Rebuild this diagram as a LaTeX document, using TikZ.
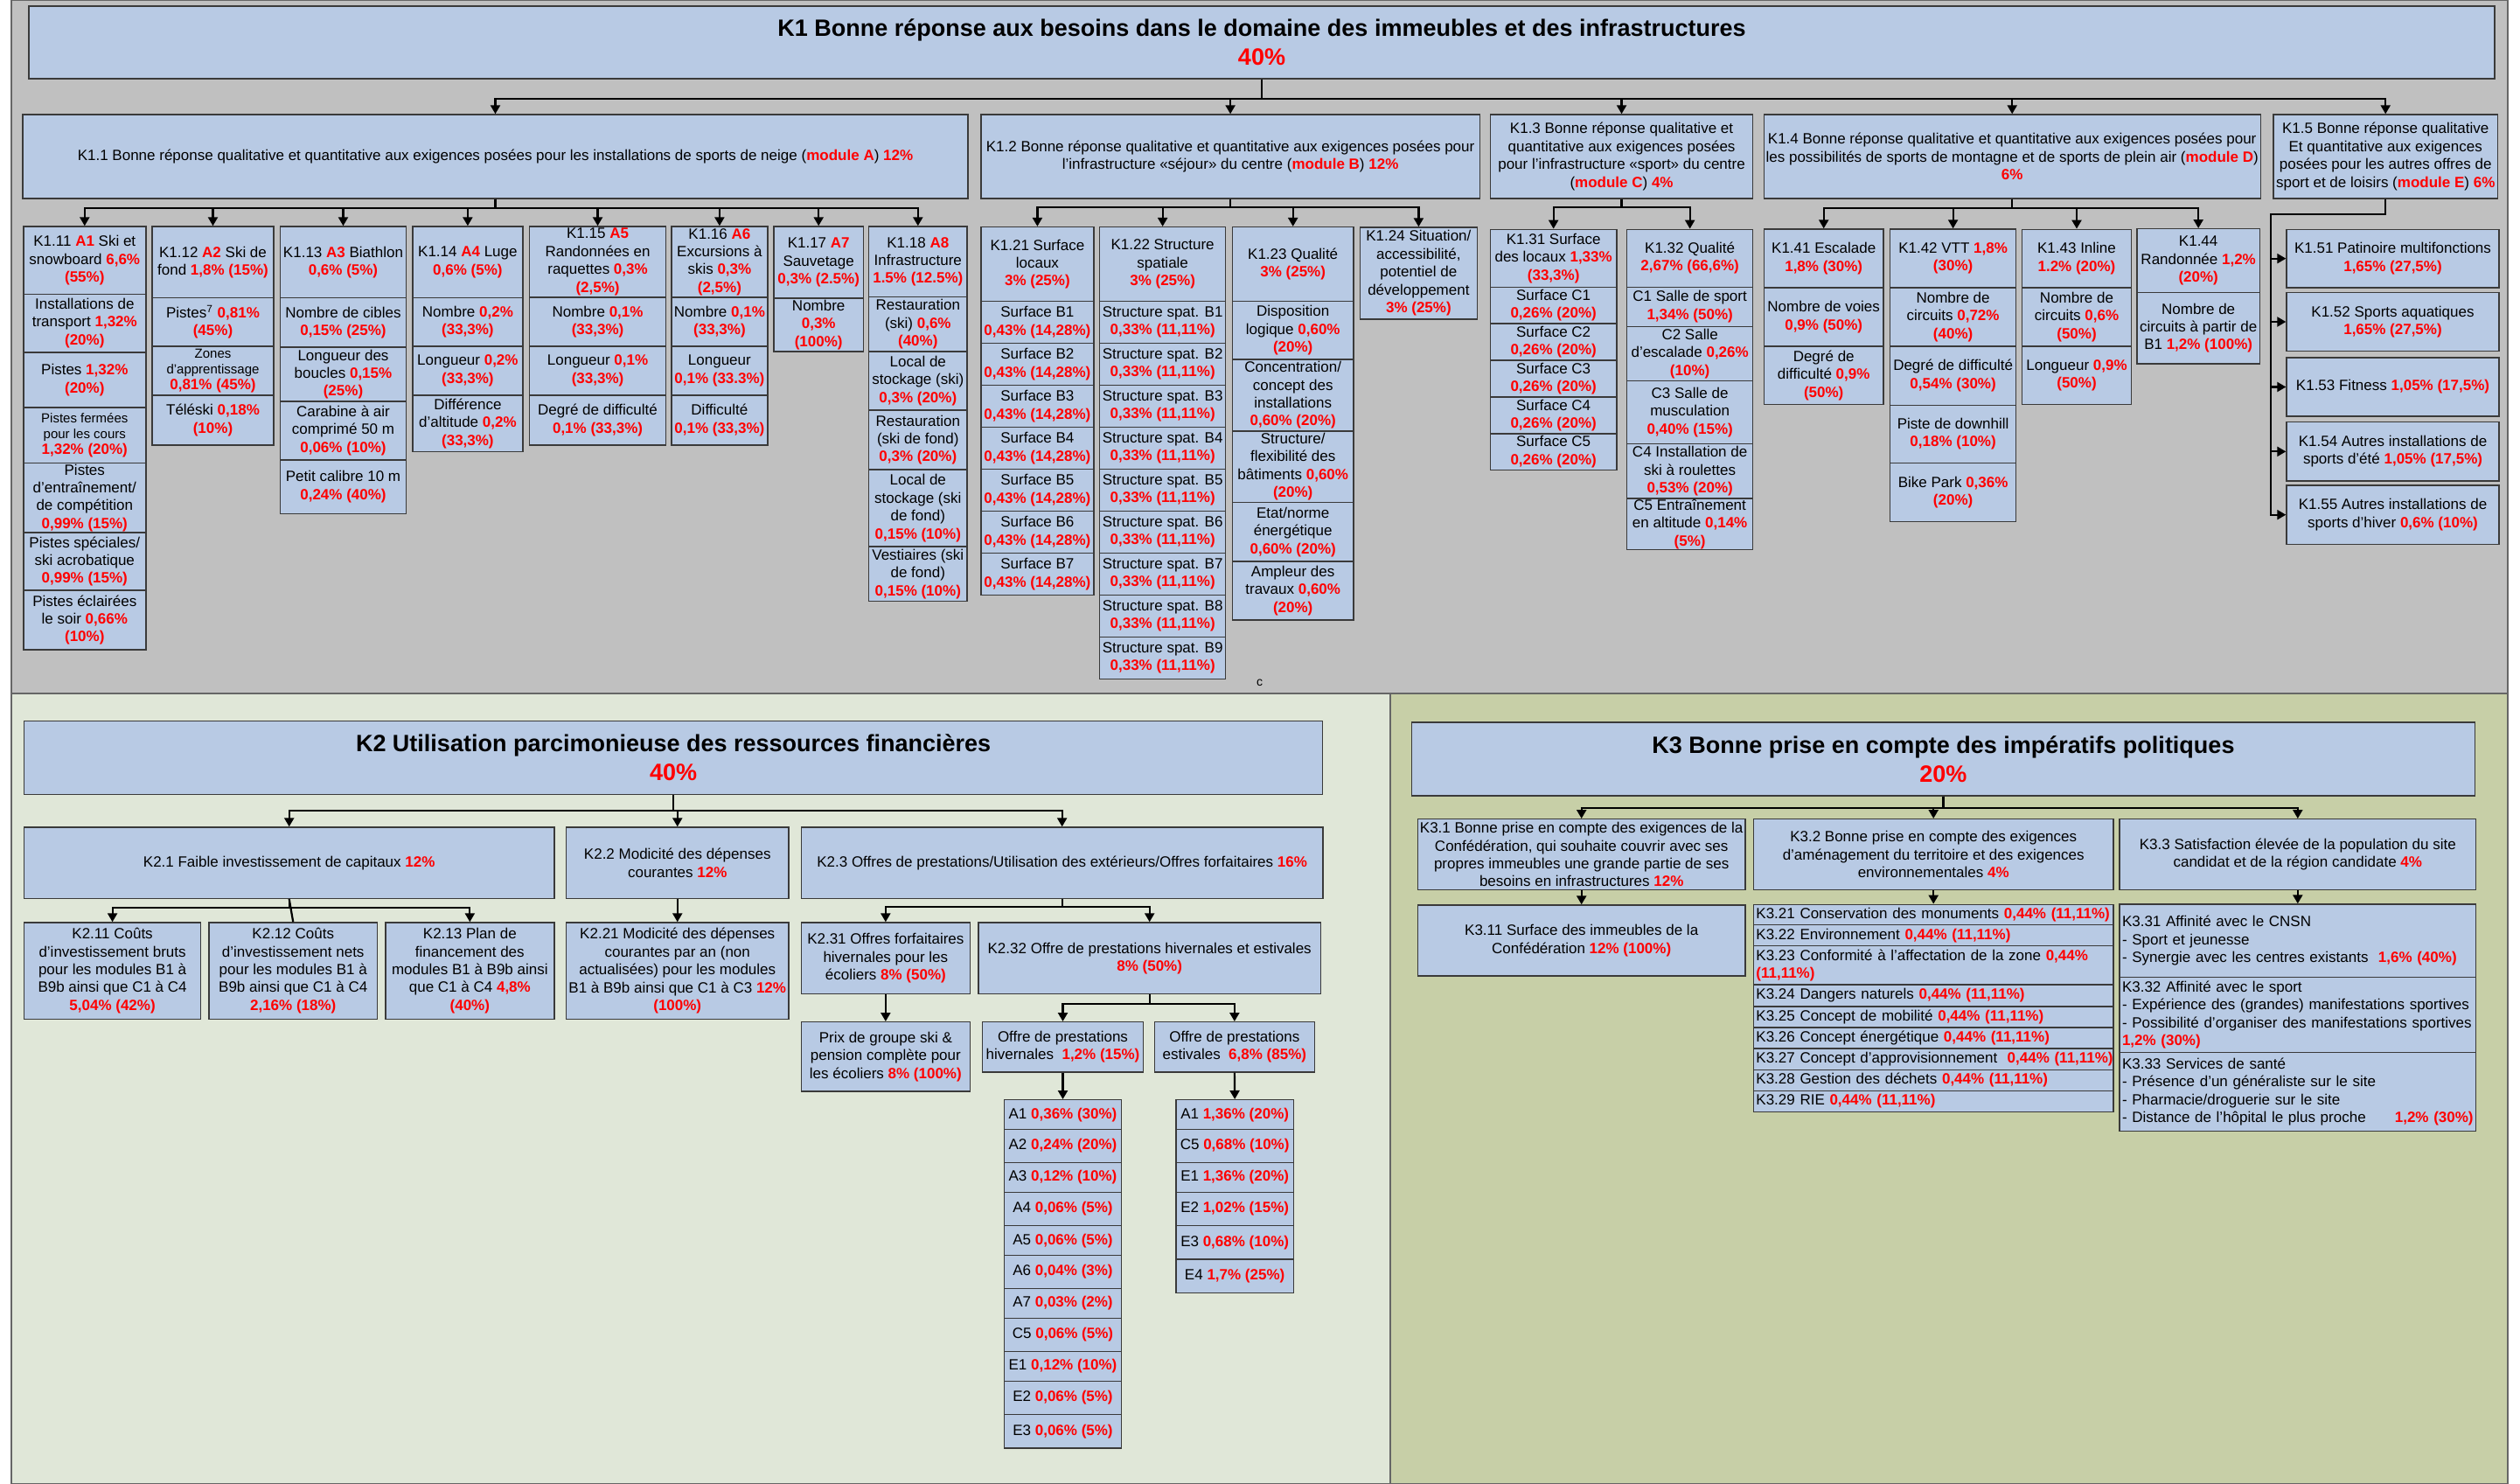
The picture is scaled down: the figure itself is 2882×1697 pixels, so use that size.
\documentclass[tikz,border=0pt]{standalone}
\usepackage{fontspec}
\setmainfont{Liberation Sans}
\usetikzlibrary{arrows.meta}
\definecolor{boxfill}{HTML}{B8CAE4}
\definecolor{bgA}{HTML}{C0C0C0}
\definecolor{bgB}{HTML}{E0E7D8}
\definecolor{bgC}{HTML}{C7CFA7}
\definecolor{edge}{HTML}{3A3A3A}
\definecolor{pct}{HTML}{FF0000}
\newcommand\rd[1]{{\color{pct}\bfseries #1}}
\newcommand\cellfont{\fontsize{8.5}{10.2}\selectfont}
\newcommand\mycell[7][]{%
  \pgfmathsetmacro\mcw{(#5-#3)*0.5}%
  \pgfmathsetmacro\mch{(#6-#4)*0.5}%
  \pgfmathsetmacro\mtw{(#5-#3)*0.5-3}%
  \node[cellbox,minimum width=\mcw pt,minimum height=\mch pt,#1] (#2) at ({(#3+#5)/2},{(#4+#6)/2}) {#7};}
\tikzset{
  cellbox/.style={draw=edge, line width=0.7pt, fill=boxfill, align=center, inner xsep=1pt, inner ysep=0pt, font=\cellfont},
  lft/.style={align=left, text width=\mtw pt},
  smallfont/.style={font=\fontsize{7.5}{9}\selectfont},
  ttl/.style={font=\fontsize{13.5}{16.5}\selectfont\bfseries},
  conn/.style={draw=black, line width=1.1pt},
  arr/.style={conn, -{Triangle[width=5.5pt,length=5pt]}},
  panel/.style={draw=black!60, line width=0.6pt}
}
\begin{document}
\begin{tikzpicture}[x=0.5pt,y=-0.5pt]
\useasboundingbox (0,0) rectangle (2882,1697);
\fill[white] (0,0) rectangle (2882,1697);
\fill[bgA,panel] (13,0) rectangle (2868,793);
\fill[bgB,panel] (13,793) rectangle (1590,1697);
\fill[bgC,panel] (1590,793) rectangle (2868,1697);

% ================= K1 =================
\mycell[ttl]{t1}{33}{7}{2853}{90}{K1 Bonne réponse aux besoins dans le domaine des immeubles et des infrastructures\\ \textcolor{pct}{40\%}}

\mycell{a1}{26}{131}{1107}{227}{K1.1 Bonne réponse qualitative et quantitative aux exigences posées pour les installations de sports de neige (\rd{module A}) \rd{12\%}}
\mycell{a2}{1121.8}{131}{1692.4}{227}{K1.2 Bonne réponse qualitative et quantitative aux exigences posées pour\\ l'infrastructure «séjour» du centre (\rd{module B}) \rd{12\%}}
\mycell{a3}{1704.5}{131}{2004.6}{227}{K1.3 Bonne réponse qualitative et\\ quantitative aux exigences posées\\ pour l'infrastructure «sport» du centre\\ (\rd{module C}) \rd{4\%}}
\mycell{a4}{2017.2}{131}{2585.2}{227}{K1.4 Bonne réponse qualitative et quantitative aux exigences posées pour\\ les possibilités de sports de montagne et de sports de plein air (\rd{module D})\\ \rd{6\%}}
\mycell{a5}{2599.8}{131}{2856.6}{227}{K1.5 Bonne réponse qualitative\\ Et quantitative aux exigences\\ posées pour les autres offres de\\ sport et de loisirs (\rd{module E}) \rd{6\%}}

% K1.11
\mycell{a11}{26.8}{259}{166.8}{336.4}{K1.11 \rd{A1} Ski et\\ snowboard \rd{6,6\%}\\ \rd{(55\%)}}
\mycell{a11a}{26.8}{336.4}{166.8}{402.8}{Installations de\\ transport \rd{1,32\%}\\ \rd{(20\%)}}
\mycell{a11b}{26.8}{402.8}{166.8}{466}{Pistes \rd{1,32\%}\\ \rd{(20\%)}}
\mycell[smallfont]{a11c}{26.8}{466}{166.8}{529.4}{Pistes fermées\\ pour les cours\\ {\cellfont\rd{1,32\% (20\%)}}}
\mycell{a11d}{26.8}{529.4}{166.8}{609}{Pistes\\ d'entraînement/\\ de compétition\\ \rd{0,99\% (15\%)}}
\mycell{a11e}{26.8}{609}{166.8}{675}{Pistes spéciales/\\ ski acrobatique\\ \rd{0,99\% (15\%)}}
\mycell{a11f}{26.8}{675}{166.8}{743}{Pistes éclairées\\ le soir \rd{0,66\%}\\ \rd{(10\%)}}
% K1.12
\mycell{a12}{174}{259}{313}{340.7}{K1.12 \rd{A2} Ski de\\ fond \rd{1,8\% (15\%)}}
\mycell{a12a}{174}{340.7}{313}{396}{Pistes\textsuperscript{7} \rd{0,81\%}\\ \rd{(45\%)}}
\mycell[smallfont]{a12b}{174}{396}{313}{452}{Zones\\ d'apprentissage\\ {\cellfont\rd{0,81\% (45\%)}}}
\mycell{a12c}{174}{452}{313}{508.8}{Téléski \rd{0,18\%}\\ \rd{(10\%)}}
% K1.13
\mycell{a13}{320.7}{259}{464.3}{340.7}{K1.13 \rd{A3} Biathlon\\ \rd{0,6\% (5\%)}}
\mycell{a13a}{320.7}{340.7}{464.3}{397}{Nombre de cibles\\ \rd{0,15\% (25\%)}}
\mycell{a13b}{320.7}{397}{464.3}{459}{Longueur des\\ boucles \rd{0,15\%}\\ \rd{(25\%)}}
\mycell{a13c}{320.7}{459}{464.3}{526}{Carabine à air\\ comprimé 50 m\\ \rd{0,06\% (10\%)}}
\mycell{a13d}{320.7}{526}{464.3}{587.5}{Petit calibre 10 m\\ \rd{0,24\% (40\%)}}
% K1.14
\mycell{a14}{471.8}{259}{598}{340.7}{K1.14 \rd{A4} Luge\\ \rd{0,6\% (5\%)}}
\mycell{a14a}{471.8}{340.7}{598}{396}{Nombre \rd{0,2\%}\\ \rd{(33,3\%)}}
\mycell{a14b}{471.8}{396}{598}{452}{Longueur \rd{0,2\%}\\ \rd{(33,3\%)}}
\mycell{a14c}{471.8}{452}{598}{516.7}{Différence\\ d'altitude \rd{0,2\%}\\ \rd{(33,3\%)}}
% K1.15
\mycell{a15}{605.5}{259}{761.6}{340}{K1.15 \rd{A5}\\ Randonnées en\\ raquettes \rd{0,3\%}\\ \rd{(2,5\%)}}
\mycell{a15a}{605.5}{340}{761.6}{396}{Nombre \rd{0,1\%}\\ \rd{(33,3\%)}}
\mycell{a15b}{605.5}{396}{761.6}{452}{Longueur \rd{0,1\%}\\ \rd{(33,3\%)}}
\mycell{a15c}{605.5}{452}{761.6}{509}{Degré de difficulté\\ \rd{0,1\% (33,3\%)}}
% K1.16
\mycell{a16}{768}{259}{877.8}{340}{K1.16 \rd{A6}\\ Excursions à\\ skis \rd{0,3\%}\\ \rd{(2,5\%)}}
\mycell{a16a}{768}{340}{877.8}{396}{Nombre \rd{0,1\%}\\ \rd{(33,3\%)}}
\mycell{a16b}{768}{396}{877.8}{452}{Longueur\\ \rd{0,1\% (33.3\%)}}
\mycell{a16c}{768}{452}{877.8}{509}{Difficulté\\ \rd{0,1\% (33,3\%)}}
% K1.17
\mycell{a17}{884.8}{259}{987.6}{341}{K1.17 \rd{A7}\\ Sauvetage\\ \rd{0,3\% (2.5\%)}}
\mycell{a17a}{884.8}{341}{987.6}{402}{Nombre\\ \rd{0,3\%}\\ \rd{(100\%)}}
% K1.18
\mycell{a18}{993.6}{259}{1106}{339.6}{K1.18 \rd{A8}\\ Infrastructure\\ \rd{1.5\% (12.5\%)}}
\mycell{a18a}{993.6}{339.6}{1106}{402}{Restauration\\ (ski) \rd{0,6\%}\\ \rd{(40\%)}}
\mycell{a18b}{993.6}{402}{1106}{469}{Local de\\ stockage (ski)\\ \rd{0,3\% (20\%)}}
\mycell{a18c}{993.6}{469}{1106}{537}{Restauration\\ (ski de fond)\\ \rd{0,3\% (20\%)}}
\mycell{a18d}{993.6}{537}{1106}{625}{Local de\\ stockage (ski\\ de fond)\\ \rd{0,15\% (10\%)}}
\mycell{a18e}{993.6}{625}{1106}{687.5}{Vestiaires (ski\\ de fond)\\ \rd{0,15\% (10\%)}}

% K1.21
\mycell{a21}{1121.8}{259.6}{1251}{344.6}{K1.21 Surface\\ locaux\\ \rd{3\% (25\%)}}
\foreach \i in {1,...,7}{%
  \pgfmathsetmacro\ya{344.6+48*(\i-1)}\pgfmathsetmacro\yb{\ya+48}%
  \mycell{a21r\i}{1121.8}{\ya}{1251}{\yb}{Surface B\i\\ \rd{0,43\% (14,28\%)}}}
% K1.22
\mycell{a22}{1257.7}{259.6}{1401.6}{344.6}{K1.22 Structure\\ spatiale\\ \rd{3\% (25\%)}}
\foreach \i in {1,...,9}{%
  \pgfmathsetmacro\ya{344.6+48*(\i-1)}\pgfmathsetmacro\yb{\ya+48}%
  \mycell{a22r\i}{1257.7}{\ya}{1401.6}{\yb}{Structure spat. B\i\\ \rd{0,33\% (11,11\%)}}}
% K1.23
\mycell{a23}{1409.6}{259.6}{1547.8}{344.6}{K1.23 Qualité\\ \rd{3\% (25\%)}}
\mycell{a23a}{1409.6}{344.6}{1547.8}{411}{Disposition\\ logique \rd{0,60\%}\\ \rd{(20\%)}}
\mycell{a23b}{1409.6}{411}{1547.8}{492.8}{Concentration/\\ concept des\\ installations\\ \rd{0,60\% (20\%)}}
\mycell{a23c}{1409.6}{492.8}{1547.8}{574.4}{Structure/\\ flexibilité des\\ bâtiments \rd{0,60\%}\\ \rd{(20\%)}}
\mycell{a23d}{1409.6}{574.4}{1547.8}{642}{Etat/norme\\ énergétique\\ \rd{0,60\% (20\%)}}
\mycell{a23e}{1409.6}{642}{1547.8}{709}{Ampleur des\\ travaux \rd{0,60\%}\\ \rd{(20\%)}}
% K1.24
\mycell{a24}{1555.4}{260}{1689.4}{364.8}{K1.24 Situation/\\ accessibilité,\\ potentiel de\\ développement\\ \rd{3\% (25\%)}}

% K1.31
\mycell{a31}{1704.5}{262.3}{1848.8}{328.3}{K1.31 Surface\\ des locaux \rd{1,33\%}\\ \rd{(33,3\%)}}
\foreach \i in {1,...,5}{%
  \pgfmathsetmacro\ya{328.3+41.88*(\i-1)}\pgfmathsetmacro\yb{\ya+41.88}%
  \mycell{a31r\i}{1704.5}{\ya}{1848.8}{\yb}{Surface C\i\\ \rd{0,26\% (20\%)}}}
% K1.32
\mycell{a32}{1860.7}{262.3}{2004.6}{328.3}{K1.32 Qualité\\ \rd{2,67\% (66,6\%)}}
\mycell{a32a}{1860.7}{328.3}{2004.6}{373.3}{C1 Salle de sport\\ \rd{1,34\% (50\%)}}
\mycell{a32b}{1860.7}{373.3}{2004.6}{435.3}{C2 Salle\\ d'escalade \rd{0,26\%}\\ \rd{(10\%)}}
\mycell{a32c}{1860.7}{435.3}{2004.6}{507.3}{C3 Salle de\\ musculation\\ \rd{0,40\% (15\%)}}
\mycell{a32d}{1860.7}{507.3}{2004.6}{570}{C4 Installation de\\ ski à roulettes\\ \rd{0,53\% (20\%)}}
\mycell{a32e}{1860.7}{570}{2004.6}{628.7}{C5 Entraînement\\ en altitude \rd{0,14\%}\\ \rd{(5\%)}}

% K1.41 - K1.44
\mycell{a41}{2017.6}{262}{2153.8}{329}{K1.41 Escalade\\ \rd{1,8\% (30\%)}}
\mycell{a41a}{2017.6}{329}{2153.8}{396}{Nombre de voies\\ \rd{0,9\% (50\%)}}
\mycell{a41b}{2017.6}{396}{2153.8}{462.7}{Degré de\\ difficulté \rd{0,9\%}\\ \rd{(50\%)}}
\mycell{a42}{2161.5}{262}{2305.7}{329}{K1.42 VTT \rd{1,8\%}\\ \rd{(30\%)}}
\mycell{a42a}{2161.5}{329}{2305.7}{396}{Nombre de\\ circuits \rd{0,72\%}\\ \rd{(40\%)}}
\mycell{a42b}{2161.5}{396}{2305.7}{463.3}{Degré de difficulté\\ \rd{0,54\% (30\%)}}
\mycell{a42c}{2161.5}{463.3}{2305.7}{529.3}{Piste de downhill\\ \rd{0,18\% (10\%)}}
\mycell{a42d}{2161.5}{529.3}{2305.7}{596.7}{Bike Park \rd{0,36\%}\\ \rd{(20\%)}}
\mycell{a43}{2312.6}{262.3}{2437.4}{329}{K1.43 Inline\\ \rd{1.2\% (20\%)}}
\mycell{a43a}{2312.6}{329}{2437.4}{396}{Nombre de\\ circuits \rd{0,6\%}\\ \rd{(50\%)}}
\mycell{a43b}{2312.6}{396}{2437.4}{462.7}{Longueur \rd{0,9\%}\\ \rd{(50\%)}}
\mycell{a44}{2443.9}{261.7}{2584.4}{334.3}{K1.44\\ Randonnée \rd{1,2\%}\\ \rd{(20\%)}}
\mycell{a44a}{2443.9}{334.3}{2584.4}{416}{Nombre de\\ circuits à partir de\\ B1 \rd{1,2\% (100\%)}}

% K1.51 - K1.55
\mycell{a51}{2615}{262.3}{2858}{329}{K1.51 Patinoire multifonctions\\ \rd{1,65\% (27,5\%)}}
\mycell{a52}{2615}{334.3}{2858}{401.7}{K1.52 Sports aquatiques\\ \rd{1,65\% (27,5\%)}}
\mycell{a53}{2615}{409}{2858}{476}{K1.53 Fitness \rd{1,05\% (17,5\%)}}
\mycell{a54}{2615}{482.7}{2858}{550}{K1.54 Autres installations de\\ sports d'été \rd{1,05\% (17,5\%)}}
\mycell{a55}{2615}{555}{2858}{622.3}{K1.55 Autres installations de\\ sports d'hiver \rd{0,6\% (10\%)}}

\node[font=\fontsize{7}{8}\selectfont] (cnote) at (1440.6,781) {c};

% ================= K2 =================
\mycell[ttl]{t2}{27.6}{824.7}{1512.7}{908.7}{K2 Utilisation parcimonieuse des ressources financières\\ \textcolor{pct}{40\%}}
\mycell{b1}{27.6}{946}{633.8}{1027.3}{K2.1 Faible investissement de capitaux \rd{12\%}}
\mycell{b2}{647.5}{946}{902}{1027.3}{K2.2 Modicité des dépenses\\ courantes \rd{12\%}}
\mycell{b3}{916.3}{946}{1513}{1027.3}{K2.3 Offres de prestations/Utilisation des extérieurs/Offres forfaitaires \rd{16\%}}
\mycell{b11}{27.6}{1055}{229.6}{1165.3}{K2.11 Coûts\\ d'investissement bruts\\ pour les modules B1 à\\ B9b ainsi que C1 à C4\\ \rd{5,04\% (42\%)}}
\mycell{b12}{238.8}{1055}{431.7}{1165.3}{K2.12 Coûts\\ d'investissement nets\\ pour les modules B1 à\\ B9b ainsi que C1 à C4\\ \rd{2,16\% (18\%)}}
\mycell{b13}{440.9}{1055}{633.8}{1165.3}{K2.13 Plan de\\ financement des\\ modules B1 à B9b ainsi\\ que C1 à C4 \rd{4,8\%}\\ \rd{(40\%)}}
\mycell{b21}{647.5}{1055}{902}{1165.3}{K2.21 Modicité des dépenses\\ courantes par an (non\\ actualisées) pour les modules\\ B1 à B9b ainsi que C1 à C3 \rd{12\%}\\ \rd{(100\%)}}
\mycell{b31}{916.3}{1055}{1109.4}{1136.7}{K2.31 Offres forfaitaires\\ hivernales pour les\\ écoliers \rd{8\% (50\%)}}
\mycell{b32}{1118.8}{1055}{1510.6}{1136.7}{K2.32 Offre de prestations hivernales et estivales\\ \rd{8\% (50\%)}}
\mycell{b311}{916.3}{1168.7}{1109.4}{1248}{Prix de groupe ski \&\\ pension complète pour\\ les écoliers \rd{8\% (100\%)}}
\mycell{bh}{1123.7}{1168.7}{1307.3}{1226}{Offre de prestations\\ hivernales~~\rd{1,2\% (15\%)}}
\mycell{be}{1320.4}{1168.7}{1503.3}{1226}{Offre de prestations\\ estivales~~\rd{6,8\% (85\%)}}

\mycell{bhr1}{1148.3}{1257.7}{1282.7}{1291.7}{A1 \rd{0,36\% (30\%)}}
\mycell{bhr2}{1148.3}{1291.7}{1282.7}{1329.3}{A2 \rd{0,24\% (20\%)}}
\mycell{bhr3}{1148.3}{1329.3}{1282.7}{1363.3}{A3 \rd{0,12\% (10\%)}}
\mycell{bhr4}{1148.3}{1363.3}{1282.7}{1401.7}{A4 \rd{0,06\% (5\%)}}
\mycell{bhr5}{1148.3}{1401.7}{1282.7}{1435.7}{A5 \rd{0,06\% (5\%)}}
\mycell{bhr6}{1148.3}{1435.7}{1282.7}{1473.3}{A6 \rd{0,04\% (3\%)}}
\mycell{bhr7}{1148.3}{1473.3}{1282.7}{1507.3}{A7 \rd{0,03\% (2\%)}}
\mycell{bhr8}{1148.3}{1507.3}{1282.7}{1545.3}{C5 \rd{0,06\% (5\%)}}
\mycell{bhr9}{1148.3}{1545.3}{1282.7}{1579.3}{E1 \rd{0,12\% (10\%)}}
\mycell{bhr10}{1148.3}{1579.3}{1282.7}{1617.7}{E2 \rd{0,06\% (5\%)}}
\mycell{bhr11}{1148.3}{1617.7}{1282.7}{1656}{E3 \rd{0,06\% (5\%)}}

\mycell{ber1}{1345}{1257.7}{1479.3}{1291.7}{A1 \rd{1,36\% (20\%)}}
\mycell{ber2}{1345}{1291.7}{1479.3}{1329.3}{C5 \rd{0,68\% (10\%)}}
\mycell{ber3}{1345}{1329.3}{1479.3}{1363.3}{E1 \rd{1,36\% (20\%)}}
\mycell{ber4}{1345}{1363.3}{1479.3}{1401.7}{E2 \rd{1,02\% (15\%)}}
\mycell{ber5}{1345}{1401.7}{1479.3}{1440}{E3 \rd{0,68\% (10\%)}}
\mycell{ber6}{1345}{1440}{1479.3}{1478.3}{E4 \rd{1,7\% (25\%)}}

% ================= K3 =================
\mycell[ttl]{t3}{1614.3}{826}{2830.6}{910}{K3 Bonne prise en compte des impératifs politiques\\ \textcolor{pct}{20\%}}
\mycell{c1}{1621.4}{936.7}{1996}{1017.7}{K3.1 Bonne prise en compte des exigences de la\\ Confédération, qui souhaite couvrir avec ses\\ propres immeubles une grande partie de ses\\ besoins en infrastructures \rd{12\%}}
\mycell{c2}{2005.4}{936.7}{2417}{1017.7}{K3.2 Bonne prise en compte des exigences\\ d'aménagement du territoire et des exigences\\ environnementales \rd{4\%}}
\mycell{c3}{2424}{936.7}{2831.6}{1017.7}{K3.3 Satisfaction élevée de la population du site\\ candidat et de la région candidate \rd{4\%}}
\mycell{c11}{1621.4}{1035}{1996}{1116}{K3.11 Surface des immeubles de la\\ Confédération \rd{12\% (100\%)}}

\mycell[lft]{c21}{2005.4}{1034.3}{2417}{1057.7}{\mbox{K3.21 Conservation des monuments \rd{0,44\% (11,11\%)}}}
\mycell[lft]{c22}{2005.4}{1057.7}{2417}{1081.7}{\mbox{K3.22 Environnement \rd{0,44\% (11,11\%)}}}
\mycell[lft]{c23}{2005.4}{1081.7}{2417}{1126}{K3.23 Conformité à l'affectation de la zone \rd{0,44\%}\\ \rd{(11,11\%)}}
\mycell[lft]{c24}{2005.4}{1126}{2417}{1151}{\mbox{K3.24 Dangers naturels \rd{0,44\% (11,11\%)}}}
\mycell[lft]{c25}{2005.4}{1151}{2417}{1175}{\mbox{K3.25 Concept de mobilité \rd{0,44\% (11,11\%)}}}
\mycell[lft]{c26}{2005.4}{1175}{2417}{1199}{\mbox{K3.26 Concept énergétique \rd{0,44\% (11,11\%)}}}
\mycell[lft]{c27}{2005.4}{1199}{2417}{1223.3}{\mbox{K3.27 Concept d'approvisionnement~~\rd{0,44\% (11,11\%)}}}
\mycell[lft]{c28}{2005.4}{1223.3}{2417}{1247.3}{\mbox{K3.28 Gestion des déchets \rd{0,44\% (11,11\%)}}}
\mycell[lft]{c29}{2005.4}{1247.3}{2417}{1271.7}{\mbox{K3.29 RIE \rd{0,44\% (11,11\%)}}}

\mycell[lft]{c31}{2424}{1034}{2831.6}{1117.3}{K3.31 Affinité avec le CNSN\\ - Sport et jeunesse\\ - Synergie avec les centres existants~~\rd{1,6\% (40\%)}}
\mycell[lft]{c32}{2424}{1117.3}{2831.6}{1203.3}{K3.32 Affinité avec le sport\\ - Expérience des (grandes) manifestations sportives\\ - Possibilité d'organiser des manifestations sportives\\ \rd{1,2\% (30\%)}}
\mycell[lft]{c33}{2424}{1203.3}{2831.6}{1293.3}{K3.33 Services de santé\\ - Présence d'un généraliste sur le site\\ - Pharmacie/droguerie sur le site\\ - Distance de l'hôpital le plus proche\hfill\rd{1,2\% (30\%)}\hspace*{3pt}}

% ================= connectors =================
\coordinate (y1) at (0,113);
\foreach \c in {a1,a2,a3,a4,a5} \draw[arr] (t1.south) -- (t1.south |- y1) -| (\c.north);
\coordinate (y11) at (0,237.6);
\foreach \c in {a11,a12,a13,a14,a15,a16,a17,a18} \draw[arr] (a1.south) -- (a1.south |- y11) -| (\c.north);
\coordinate (y12) at (0,237);
\foreach \c in {a21,a22,a23,a24} \draw[arr] (a2.south) -- (a2.south |- y12) -| (\c.north);
\coordinate (y13) at (0,237.3);
\foreach \c in {a31,a32} \draw[arr] (a3.south) -- (a3.south |- y13) -| (\c.north);
\coordinate (y14) at (0,238.3);
\foreach \c in {a41,a42,a43,a44} \draw[arr] (a4.south) -- (a4.south |- y14) -| (\c.north);
\coordinate (e5) at (2597,245);
\foreach \c in {a51,a52,a53,a54,a55} \draw[arr] (a5.south) |- (e5) |- (\c.west);

\coordinate (y2) at (0,926.7);
\foreach \c in {b1,b2,b3} \draw[arr] (t2.south) -- (t2.south |- y2) -| (\c.north);
\coordinate (y21) at (0,1038.3);
\foreach \c in {b11,b13} \draw[arr] (b1.south) -- (b1.south |- y21) -| (\c.north);
\draw[conn] (b1.south) -- (b12.north);
\draw[arr] (b2.south) -- (b21.north);
\coordinate (y23) at (0,1036.7);
\foreach \c in {b31,b32} \draw[arr] (b3.south) -- (b3.south |- y23) -| (\c.north);
\draw[arr] (b31.south) -- (b311.north);
\coordinate (y232) at (0,1147.7);
\foreach \c in {bh,be} \draw[arr] (b32.south) -- (b32.south |- y232) -| (\c.north);
\draw[arr] (bh.south) -- (bhr1.north);
\draw[arr] (be.south) -- (ber1.north);

\coordinate (y3) at (0,924.3);
\foreach \c in {c1,c2,c3} \draw[arr] (t3.south) -- (t3.south |- y3) -| (\c.north);
\draw[arr] (c1.south) -- (c11.north);
\draw[arr] (c2.south) -- (c21.north);
\draw[arr] (c3.south) -- (c31.north);
\end{tikzpicture}
\end{document}
